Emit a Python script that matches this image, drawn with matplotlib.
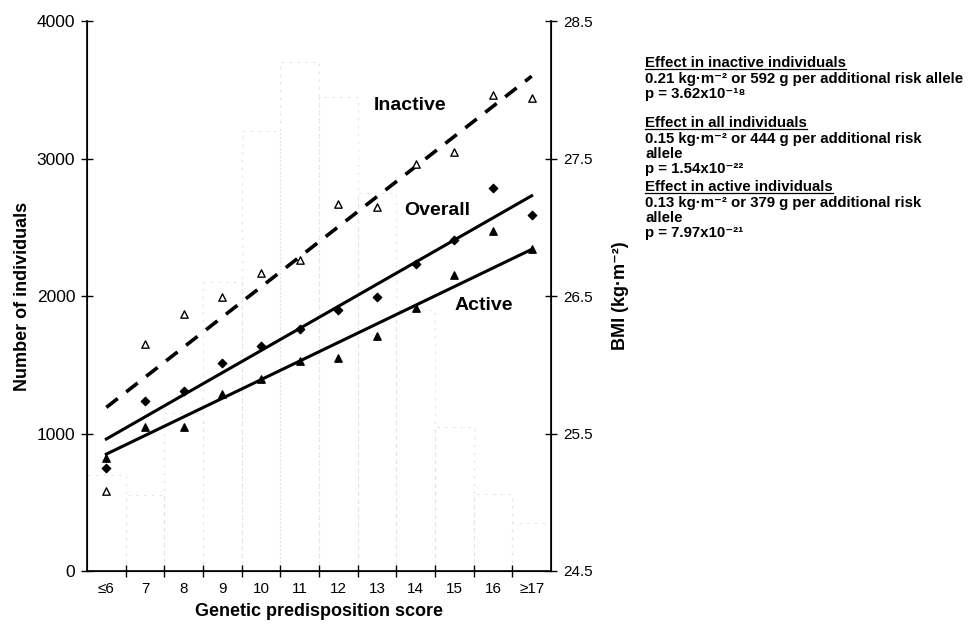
import numpy as np
import matplotlib.pyplot as plt
from matplotlib.lines import Line2D

plt.rcParams['font.family'] = ['Liberation Sans', 'DejaVu Sans']

# ------------------------------------------------------------
# DATA
# ------------------------------------------------------------
scores = [6, 7, 8, 9, 10, 11, 12, 13, 14, 15, 16, 17]
score_labels = ["≤6", "7", "8", "9", "10", "11", "12", "13", "14", "15", "16", "≥17"]

# number of individuals per score (faint background bars)
n_individuals = [700, 550, 1150, 2100, 3200, 3700, 3450, 2750, 1900, 1050, 560, 350]

# mean BMI per score
bmi_inactive = [25.08, 26.15, 26.37, 26.49, 26.67, 26.76, 27.17, 27.15, 27.46, 27.55, 27.96, 27.94]
bmi_overall = [25.25, 25.74, 25.81, 26.01, 26.14, 26.26, 26.40, 26.49, 26.73, 26.91, 27.29, 27.09]
bmi_active = [25.32, 25.55, 25.55, 25.79, 25.90, 26.03, 26.05, 26.21, 26.41, 26.65, 26.97, 26.84]

# fitted lines: BMI at score 6 and at score 17
fit_inactive = [25.69, 28.10]
fit_overall = [25.46, 27.23]
fit_active = [25.35, 26.84]

# ------------------------------------------------------------
# FIGURE
# ------------------------------------------------------------
fig = plt.figure(figsize=(9.73, 6.24), dpi=100)
ax = fig.add_axes([0.0894, 0.085, 0.4769, 0.881])
ax2 = ax.twinx()

# background histogram (scanned, barely visible)
ax.bar(scores, n_individuals, width=1.0, facecolor='none', edgecolor='#e2e2e2',
       linewidth=0.8, linestyle=(0, (2, 5)), zorder=1)

ax.set_xlim(5.5, 17.5)
ax.set_ylim(0, 4000)
ax.set_yticks([0, 1000, 2000, 3000, 4000])
ax.tick_params(axis='y', direction='inout', length=9, width=1, labelsize=12.5, pad=4)

ax.set_xticks(scores)
ax.set_xticklabels(score_labels)
ax.set_xticks(np.arange(6.5, 17.5, 1.0), minor=True)
ax.tick_params(axis='x', which='major', length=0, labelsize=11, pad=8)
ax.tick_params(axis='x', which='minor', direction='inout', length=9, width=1)

for s in ['left', 'bottom']:
    ax.spines[s].set_linewidth(1.2)
ax.spines['top'].set_visible(False)
ax2.spines['top'].set_visible(False)
ax2.spines['right'].set_linewidth(1.2)

ax.set_xlabel("Genetic predisposition score", fontsize=13, fontweight='bold', labelpad=5)
ax.set_ylabel("Number of individuals", fontsize=13, fontweight='bold', labelpad=4)

# BMI on right axis
ax2.set_ylim(24.5, 28.5)
ax2.set_yticks([24.5, 25.5, 26.5, 27.5, 28.5])
ax2.set_yticklabels(["24.5", "25.5", "26.5", "27.5", "28.5"])
ax2.tick_params(axis='y', direction='inout', length=9, width=1, labelsize=11, pad=4)
ax2.set_ylabel("BMI (kg·m⁻²)", fontsize=13, fontweight='bold', labelpad=14)

ends = [scores[0], scores[-1]]
ax2.plot(ends, fit_inactive, color='black', lw=2.6, ls=(0, (4, 3)), zorder=3)
ax2.plot(ends, fit_overall, color='black', lw=2.2, zorder=3)
ax2.plot(ends, fit_active, color='black', lw=2.2, zorder=3)

ax2.scatter(scores, bmi_inactive, marker='^', s=28, facecolor='white',
            edgecolor='black', linewidth=1.0, zorder=4)
ax2.scatter(scores, bmi_overall, marker='D', s=18, color='black', zorder=4)
ax2.scatter(scores, bmi_active, marker='^', s=28, color='black', zorder=4)

ax2.text(12.92, 27.89, "Inactive", fontsize=14, fontweight='bold', va='center')
ax2.text(13.7, 27.12, "Overall", fontsize=14, fontweight='bold', va='center')
ax2.text(15.0, 26.43, "Active", fontsize=14, fontweight='bold', va='center')

# ------------------------------------------------------------
# EFFECT TEXT BLOCK
# ------------------------------------------------------------
blocks = [
    ("Effect in inactive individuals",
     ["0.21 kg·m⁻² or 592 g per additional risk allele", "p = 3.62x10⁻¹⁸"]),
    ("Effect in all individuals",
     ["0.15 kg·m⁻² or 444 g per additional risk", "allele", "p = 1.54x10⁻²²"]),
    ("Effect in active individuals",
     ["0.13 kg·m⁻² or 379 g per additional risk", "allele", "p = 7.97x10⁻²¹"]),
]
block_tops = [63, 123, 187]
line_step = 15.5

fig.canvas.draw()
renderer = fig.canvas.get_renderer()
x0 = 645 / 973
for (head, lines), top in zip(blocks, block_tops):
    y = 1 - top / 624
    t = fig.text(x0, y, head, fontsize=10.8, fontweight='bold', va='center')
    bb = t.get_window_extent(renderer)
    uy = (bb.y0 + 1) / fig.bbox.height
    fig.add_artist(Line2D([bb.x0 / fig.bbox.width, bb.x1 / fig.bbox.width], [uy, uy],
                          color='black', lw=0.9, transform=fig.transFigure))
    for i, ln in enumerate(lines):
        fig.text(x0, 1 - (top + line_step * (i + 1)) / 624, ln, fontsize=10.8,
                 fontweight='bold', va='center')

fig.savefig("out.png", dpi=100)
